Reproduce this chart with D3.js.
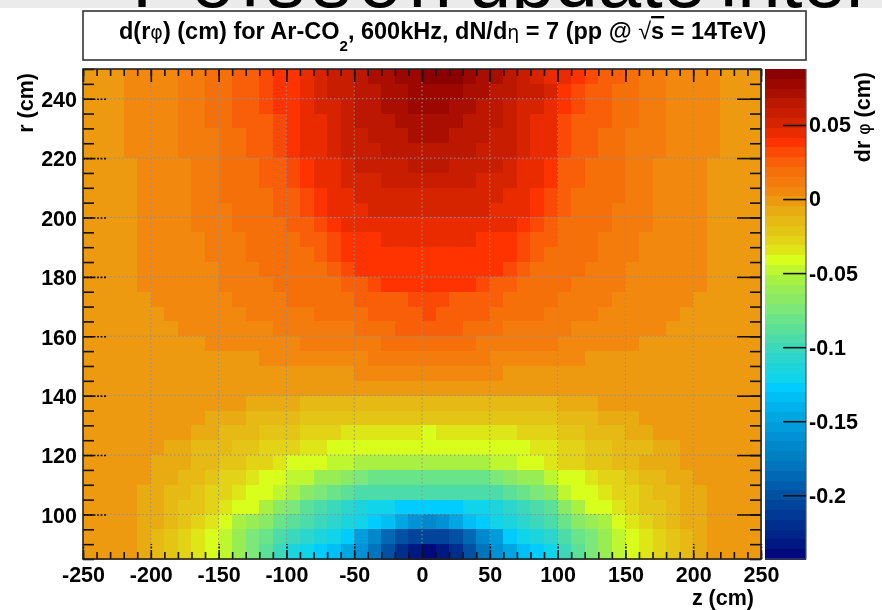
<!DOCTYPE html>
<html>
<head>
<meta charset="utf-8">
<title>d(r phi) map</title>
<script src="https://cdn.jsdelivr.net/npm/d3@7/dist/d3.min.js"></script>
<style>
	html, body { margin: 0; padding: 0; background: #fff; }
	svg { display: block; filter: blur(0.5px); }
	text { font-family: "Liberation Sans", Arial, sans-serif; fill: #000; }
	.bold { font-weight: bold; }
	.axis text { font-size: 21.5px; font-weight: bold; }
	.axis path { display: none; }
	.axis line { stroke: #111; stroke-width: 1.6; }
	.dashed line { stroke-dasharray: 2,1.5; }
</style>
</head>
<body>
<div class="map"></div>
<script>
// bin centres, z and r in cm
var zCenters = [-245,-235,-225,-215,-205,-195,-185,-175,-165,-155,-145,-135,-125,-115,-105,-95,-85,-75,-65,-55,-45,-35,-25,-15,-5,5,15,25,35,45,55,65,75,85,95,105,115,125,135,145,155,165,175,185,195,205,215,225,235,245];
var rCenters = [247.5,242.5,237.5,232.5,227.5,222.5,217.5,212.5,207.5,202.5,197.5,192.5,187.5,182.5,177.5,172.5,167.5,162.5,157.5,152.5,147.5,142.5,137.5,132.5,127.5,122.5,117.5,112.5,107.5,102.5,97.5,92.5,87.5];

// d(r phi) in 0.001 cm, one row per r bin
var dphi = [
[-2,-2,-2,5,5,5,5,12,12,18,18,25,25,31,38,38,45,51,58,58,65,71,71,78,78,84,84,84,78,71,71,65,58,51,45,45,38,31,25,25,18,12,12,5,5,5,5,-2,-2,-2],
[-2,-2,-2,5,5,5,5,12,12,18,18,25,25,31,38,38,45,51,58,58,65,65,71,71,78,78,78,78,71,71,65,65,58,58,51,38,31,25,25,18,18,12,12,5,5,5,5,-2,-2,-2],
[-2,-2,-2,5,5,5,5,12,12,18,18,25,25,31,38,38,45,51,51,58,65,65,71,71,78,78,78,71,71,65,65,58,51,51,45,38,31,25,25,18,18,12,12,5,5,5,5,-2,-2,-2],
[-2,-2,-2,5,5,5,5,12,12,18,18,25,25,25,31,38,45,45,51,58,65,65,65,71,71,71,71,71,65,65,65,58,51,45,45,31,25,25,25,18,18,12,12,5,5,5,5,-2,-2,-2],
[-2,-2,-2,5,5,5,5,12,12,12,18,18,25,25,31,38,45,45,51,58,58,65,65,65,71,71,71,65,65,65,58,58,51,45,45,31,25,25,18,18,12,12,12,5,5,5,5,-2,-2,-2],
[-2,-2,-2,5,5,5,5,12,12,12,18,18,25,25,31,38,45,45,51,58,58,58,65,65,65,65,65,65,65,58,58,58,51,45,45,31,25,25,18,18,12,12,12,5,5,5,5,-2,-2,-2],
[-2,-2,-2,-2,5,5,5,5,12,12,18,18,18,25,25,31,38,45,45,51,58,58,58,58,65,65,65,58,58,58,58,51,45,45,38,25,25,18,18,18,12,12,5,5,5,5,-2,-2,-2,-2],
[-2,-2,-2,-2,5,5,5,5,12,12,18,18,18,25,25,31,38,45,45,51,51,51,58,58,58,58,58,58,58,51,51,51,45,45,38,25,25,18,18,18,12,12,5,5,5,5,-2,-2,-2,-2],
[-2,-2,-2,-2,5,5,5,5,12,12,18,18,18,18,25,25,31,38,45,45,51,51,51,51,51,51,51,51,51,51,51,45,45,38,31,25,18,18,18,18,12,12,5,5,5,5,-2,-2,-2,-2],
[-2,-2,-2,-2,5,5,5,5,12,12,12,18,18,18,25,25,31,38,45,45,45,51,51,51,51,51,51,51,51,51,45,45,45,38,31,25,18,18,18,12,12,12,5,5,5,5,-2,-2,-2,-2],
[-2,-2,-2,-2,5,5,5,5,12,12,12,18,18,18,18,25,25,31,38,45,45,45,45,45,45,45,45,45,45,45,45,45,38,31,25,18,18,18,18,12,12,12,5,5,5,5,-2,-2,-2,-2],
[-2,-2,-2,-2,5,5,5,5,5,12,12,12,18,18,18,18,25,25,31,38,38,38,45,45,45,45,45,45,45,38,38,38,31,25,25,18,18,18,12,12,12,5,5,5,5,5,-2,-2,-2,-2],
[-2,-2,-2,-2,5,5,5,5,5,12,12,12,18,18,18,18,18,25,31,38,38,38,38,38,38,38,38,38,38,38,38,38,31,25,18,18,18,18,12,12,12,5,5,5,5,5,-2,-2,-2,-2],
[-2,-2,-2,-2,5,5,5,5,5,5,12,12,12,18,18,18,18,18,25,31,38,38,38,38,38,38,38,38,38,38,38,31,25,18,18,18,18,12,12,12,5,5,5,5,5,5,-2,-2,-2,-2],
[-2,-2,-2,-2,5,5,5,5,5,5,12,12,12,12,18,18,18,18,18,25,25,31,38,38,38,38,38,38,38,31,25,25,18,18,18,18,12,12,12,12,5,5,5,5,5,5,-2,-2,-2,-2],
[-2,-2,-2,-2,-2,5,5,5,5,5,5,12,12,12,12,18,18,18,18,18,25,25,25,25,31,31,31,25,25,25,25,18,18,18,18,12,12,12,12,5,5,5,5,5,5,-2,-2,-2,-2,-2],
[-2,-2,-2,-2,-2,-2,5,5,5,5,5,5,12,12,12,12,12,18,18,18,18,25,25,25,25,31,25,25,25,25,18,18,18,18,12,12,12,12,5,5,5,5,5,5,-2,-2,-2,-2,-2,-2],
[-2,-2,-2,-2,-2,-2,-2,5,5,5,5,5,5,5,12,12,12,12,12,12,18,18,18,25,25,25,25,25,18,18,18,12,12,12,12,12,5,5,5,5,5,5,5,-2,-2,-2,-2,-2,-2,-2],
[-2,-2,-2,-2,-2,-2,-2,-2,-2,5,5,5,5,5,5,5,12,12,12,12,12,12,18,18,18,18,18,18,18,12,12,12,12,12,12,5,5,5,5,5,5,-2,-2,-2,-2,-2,-2,-2,-2,-2],
[-2,-2,-2,-2,-2,-2,-2,-2,-2,-2,-2,-2,-2,5,5,5,5,5,5,5,5,12,12,12,12,12,12,12,12,12,5,5,5,5,5,5,5,-2,-2,-2,-2,-2,-2,-2,-2,-2,-2,-2,-2,-2],
[-2,-2,-2,-2,-2,-2,-2,-2,-2,-2,-2,-2,-2,-2,-2,-2,-2,-2,-2,-2,5,5,5,5,5,5,5,5,5,5,5,-2,-2,-2,-2,-2,-2,-2,-2,-2,-2,-2,-2,-2,-2,-2,-2,-2,-2,-2],
[-2,-2,-2,-2,-2,-2,-2,-2,-2,-2,-2,-2,-2,-2,-2,-2,-2,-2,-2,-2,-2,-2,-2,-2,-2,-2,-2,-2,-2,-2,-2,-2,-2,-2,-2,-2,-2,-2,-2,-2,-2,-2,-2,-2,-2,-2,-2,-2,-2,-2],
[-2,-2,-2,-2,-2,-2,-2,-2,-2,-2,-2,-2,-8,-8,-8,-8,-15,-15,-15,-15,-15,-15,-15,-15,-15,-15,-15,-15,-15,-15,-15,-15,-15,-15,-15,-8,-8,-8,-2,-2,-2,-2,-2,-2,-2,-2,-2,-2,-2,-2],
[-2,-2,-2,-2,-2,-2,-2,-2,-2,-8,-8,-8,-15,-15,-15,-15,-21,-21,-21,-21,-21,-21,-21,-21,-21,-21,-21,-21,-21,-21,-21,-21,-21,-21,-21,-15,-15,-15,-8,-8,-8,-2,-2,-2,-2,-2,-2,-2,-2,-2],
[-2,-2,-2,-2,-2,-2,-2,-2,-8,-8,-15,-15,-15,-21,-21,-21,-28,-28,-28,-35,-35,-35,-35,-35,-35,-38,-35,-35,-35,-35,-35,-35,-28,-28,-28,-21,-21,-15,-15,-15,-8,-8,-2,-2,-2,-2,-2,-2,-2,-2],
[-2,-2,-2,-2,-2,-2,-8,-8,-15,-15,-15,-21,-21,-28,-28,-28,-35,-35,-41,-41,-41,-41,-41,-41,-41,-41,-41,-41,-41,-41,-41,-41,-41,-35,-35,-28,-28,-21,-21,-15,-15,-15,-8,-8,-2,-2,-2,-2,-2,-2],
[-2,-2,-2,-2,-2,-8,-8,-8,-15,-15,-21,-21,-28,-28,-35,-41,-41,-41,-48,-48,-55,-55,-55,-55,-55,-55,-55,-55,-55,-55,-48,-48,-41,-41,-35,-28,-28,-21,-21,-15,-15,-8,-8,-8,-2,-2,-2,-2,-2,-2],
[-2,-2,-2,-2,-2,-8,-8,-15,-15,-21,-28,-28,-35,-41,-41,-48,-48,-58,-61,-68,-74,-78,-81,-81,-81,-81,-81,-81,-81,-78,-74,-68,-61,-58,-48,-41,-41,-35,-28,-28,-21,-15,-15,-8,-8,-2,-2,-2,-2,-2],
[-2,-2,-2,-2,-8,-8,-15,-15,-21,-28,-28,-35,-41,-41,-48,-55,-68,-74,-81,-88,-91,-94,-94,-97,-97,-97,-97,-97,-94,-94,-91,-88,-81,-74,-68,-48,-41,-41,-35,-28,-28,-21,-15,-15,-8,-8,-2,-2,-2,-2],
[-2,-2,-2,-2,-8,-8,-15,-21,-21,-28,-35,-41,-41,-52,-68,-74,-88,-94,-101,-107,-114,-121,-121,-127,-127,-130,-127,-127,-121,-121,-114,-107,-101,-94,-88,-68,-52,-41,-41,-35,-28,-21,-21,-15,-8,-8,-2,-2,-2,-2],
[-2,-2,-2,-2,-8,-8,-15,-21,-28,-35,-41,-52,-61,-68,-81,-88,-94,-101,-107,-114,-121,-127,-134,-147,-160,-167,-160,-147,-134,-127,-121,-114,-107,-101,-94,-81,-68,-61,-52,-41,-35,-28,-21,-15,-8,-8,-2,-2,-2,-2],
[-2,-2,-2,-2,-8,-15,-21,-28,-35,-41,-48,-61,-71,-81,-91,-101,-107,-114,-121,-127,-154,-170,-187,-197,-204,-207,-204,-197,-187,-170,-154,-127,-121,-114,-107,-91,-81,-71,-61,-48,-41,-35,-28,-21,-15,-8,-2,-2,-2,-2],
[-2,-2,-2,-2,-8,-15,-21,-28,-35,-41,-48,-61,-74,-88,-101,-114,-121,-127,-134,-147,-160,-180,-200,-220,-233,-240,-233,-220,-200,-180,-160,-147,-134,-127,-121,-101,-88,-74,-61,-48,-41,-35,-28,-21,-15,-8,-2,-2,-2,-2]
];

var zTicks = [-250,-200,-150,-100,-50,0,50,100,150,200,250];
var rTicks = [100,120,140,160,180,200,220,240];
var colorTicks = [0.05,0,-0.05,-0.1,-0.15,-0.2];

// 50 colour levels, highest value first
var palette = ["#8b0000","#9c0800","#a90e00","#bc1700","#c81d00","#d62400","#ea2b00","#ff3300","#fb4a05","#f85f08","#f6700a","#f47c0c","#f2880e","#ee9a10","#e9ab12","#e6b914","#e4c415","#e3d316","#dfe618","#d7ff1b","#bef630","#a8f042","#98ec54","#8aea66","#7ce87a","#6ae488","#5ce098","#4cdcaa","#3cd8bc","#2cd6cc","#1cd4dc","#10d4ea","#00ccff","#00bff5","#00b2ec","#00a6e2","#009cdc","#0092d4","#0088cc","#0080c4","#0074bc","#0068b4","#005cac","#0050a4","#00449c","#003a96","#002e8e","#002488","#001882","#000a7c"];

var svg = d3.select(".map")
	.append("svg")
	.attr("width", 882)
	.attr("height", 610);

var left = 83, right = 761, top_ = 69, bottom = 559;

var xScale = d3.scaleLinear().domain([-250, 250]).range([left, right]);
var yScale = d3.scaleLinear().domain([85, 250]).range([bottom, top_]);
var colorY = d3.scaleLinear().domain([-0.243, 0.0878]).range([bottom, top_]);
var color = d3.scaleQuantize().domain([-243, 87.8]).range(palette.slice().reverse());

// slide title cut off behind the picture
svg.append("rect").attr("width", 882).attr("height", 8).attr("fill", "#ebebeb");
var banner = svg.append("g").attr("class", "banner");
banner.append("text").attr("x", 132).attr("y", 7).attr("font-size", 78).attr("textLength", 320).text("Poisson");
banner.append("text").attr("x", 468).attr("y", 7).attr("font-size", 78).attr("textLength", 238).text("update");
banner.append("text").attr("x", 720).attr("y", 7).attr("font-size", 78).text("interval");
svg.append("rect").attr("y", 8).attr("width", 882).attr("height", 602).attr("fill", "#fff");

// title box
svg.append("rect")
	.attr("x", 83).attr("y", 11)
	.attr("width", 723).attr("height", 49)
	.attr("fill", "#fff")
	.attr("stroke", "#333")
	.attr("stroke-width", 1.6);

var title = svg.append("text")
	.attr("class", "bold")
	.attr("x", 119).attr("y", 39)
	.attr("font-size", 23.5);
title.append("tspan").text("d(r");
title.append("tspan").attr("font-weight", "normal").attr("font-family", "DejaVu Sans").attr("font-size", 19).text("\u03c6");
title.append("tspan").text(") (cm) for Ar-CO");
title.append("tspan").attr("dy", 12).attr("font-size", 15).text("2");
title.append("tspan").attr("dy", -12).text(", 600kHz, dN/d");
title.append("tspan").attr("font-weight", "normal").attr("font-family", "DejaVu Sans").attr("font-size", 19).text("\u03b7");
title.append("tspan").text(" = 7 (pp @ ");
title.append("tspan").attr("font-weight", "normal").text(" \u221a");
title.append("tspan").attr("text-decoration", "overline").text("s");
title.append("tspan").text(" = 14TeV)");

// heat map cells
var cells = [];
dphi.forEach(function(row, i) {
	row.forEach(function(v, j) {
		cells.push({ z: zCenters[j], r: rCenters[i], v: v });
	});
});

svg.append("g").selectAll("rect")
	.data(cells)
	.enter()
	.append("rect")
	.attr("x", function(d) { return xScale(d.z - 5); })
	.attr("y", function(d) { return yScale(d.r + 2.5); })
	.attr("width", xScale(10) - xScale(0) + 0.5)
	.attr("height", yScale(0) - yScale(5) + 0.5)
	.attr("fill", function(d) { return color(d.v); })
	.attr("shape-rendering", "crispEdges");

// colour bar
svg.append("g").selectAll("rect")
	.data(palette)
	.enter()
	.append("rect")
	.attr("x", 765)
	.attr("width", 41)
	.attr("y", function(d) { return colorY(color.invertExtent(d)[1] / 1000); })
	.attr("height", function(d) {
		var e = color.invertExtent(d);
		return colorY(e[0] / 1000) - colorY(e[1] / 1000) + 0.5;
	})
	.attr("fill", function(d) { return d; })
	.attr("shape-rendering", "crispEdges");

svg.append("path")
	.attr("d", "M765," + bottom + "H806V" + top_)
	.attr("fill", "none")
	.attr("stroke", "#555")
	.attr("stroke-width", 1.2);

// ticks, minor first then the labelled ones
function noLabel() { return ""; }
function plainLabel(d) { return String(d); }

svg.append("g").attr("class", "axis").attr("transform", "translate(0," + bottom + ")")
	.call(d3.axisBottom(xScale).tickValues(d3.range(-250, 251, 10)).tickSize(-7).tickFormat(noLabel));
svg.append("g").attr("class", "axis").attr("transform", "translate(0," + top_ + ")")
	.call(d3.axisTop(xScale).tickValues(d3.range(-250, 251, 10)).tickSize(-7).tickFormat(noLabel));
svg.append("g").attr("class", "axis").attr("transform", "translate(" + left + ",0)")
	.call(d3.axisLeft(yScale).tickValues(d3.range(85, 251, 5)).tickSize(-11).tickFormat(noLabel));
svg.append("g").attr("class", "axis").attr("transform", "translate(" + right + ",0)")
	.call(d3.axisRight(yScale).tickValues(d3.range(85, 251, 5)).tickSize(-11).tickFormat(noLabel));

var xAxis = svg.append("g").attr("class", "axis dashed").attr("transform", "translate(0," + bottom + ")")
	.call(d3.axisBottom(xScale).tickValues(zTicks).tickSize(-15).tickPadding(8).tickFormat(plainLabel));
var yAxis = svg.append("g").attr("class", "axis dashed").attr("transform", "translate(" + left + ",0)")
	.call(d3.axisLeft(yScale).tickValues(rTicks).tickSize(-23).tickPadding(6).tickFormat(plainLabel));
svg.append("g").attr("class", "axis").attr("transform", "translate(0," + top_ + ")")
	.call(d3.axisTop(xScale).tickValues(zTicks).tickSize(-13).tickFormat(noLabel));
svg.append("g").attr("class", "axis").attr("transform", "translate(" + right + ",0)")
	.call(d3.axisRight(yScale).tickValues(rTicks).tickSize(-24).tickFormat(noLabel));

xAxis.selectAll("text").attr("dy", "0.72em");
yAxis.selectAll("text").attr("dy", "0.36em");

svg.append("g").attr("class", "axis").attr("transform", "translate(806,0)")
	.call(d3.axisRight(colorY).tickValues(colorTicks).tickSize(-23).tickPadding(3).tickFormat(plainLabel));

// dotted grid on top of the map
var grid = svg.append("g")
	.attr("fill", "none")
	.attr("stroke", "#8f8f8f")
	.attr("stroke-width", 1)
	.attr("stroke-dasharray", "1.5,2.5");

grid.selectAll(".gx")
	.data(zTicks.slice(1, -1))
	.enter()
	.append("line")
	.attr("x1", function(d) { return xScale(d); })
	.attr("x2", function(d) { return xScale(d); })
	.attr("y1", top_ + 13)
	.attr("y2", bottom - 15);

grid.selectAll(".gy")
	.data(rTicks)
	.enter()
	.append("line")
	.attr("x1", left + 23)
	.attr("x2", right - 24)
	.attr("y1", function(d) { return yScale(d); })
	.attr("y2", function(d) { return yScale(d); });

// frame
svg.append("rect")
	.attr("x", left).attr("y", top_)
	.attr("width", right - left).attr("height", bottom - top_)
	.attr("fill", "none")
	.attr("stroke", "#222")
	.attr("stroke-width", 1.6);

// axis titles
svg.append("text").attr("class", "bold")
	.attr("text-anchor", "end")
	.attr("x", 754).attr("y", 605)
	.attr("font-size", 21.5)
	.text("z (cm)");

svg.append("text").attr("class", "bold")
	.attr("text-anchor", "end")
	.attr("transform", "translate(33,73) rotate(-90)")
	.attr("font-size", 21.5)
	.text("r (cm)");

var zTitle = svg.append("text").attr("class", "bold")
	.attr("text-anchor", "end")
	.attr("transform", "translate(870,72) rotate(-90)")
	.attr("font-size", 21.5);
zTitle.append("tspan").text("dr");
zTitle.append("tspan").attr("font-weight", "normal").attr("font-family", "DejaVu Sans").attr("font-size", 18).text(" \u03c6 ");
zTitle.append("tspan").text("(cm)");
</script>
</body>
</html>
